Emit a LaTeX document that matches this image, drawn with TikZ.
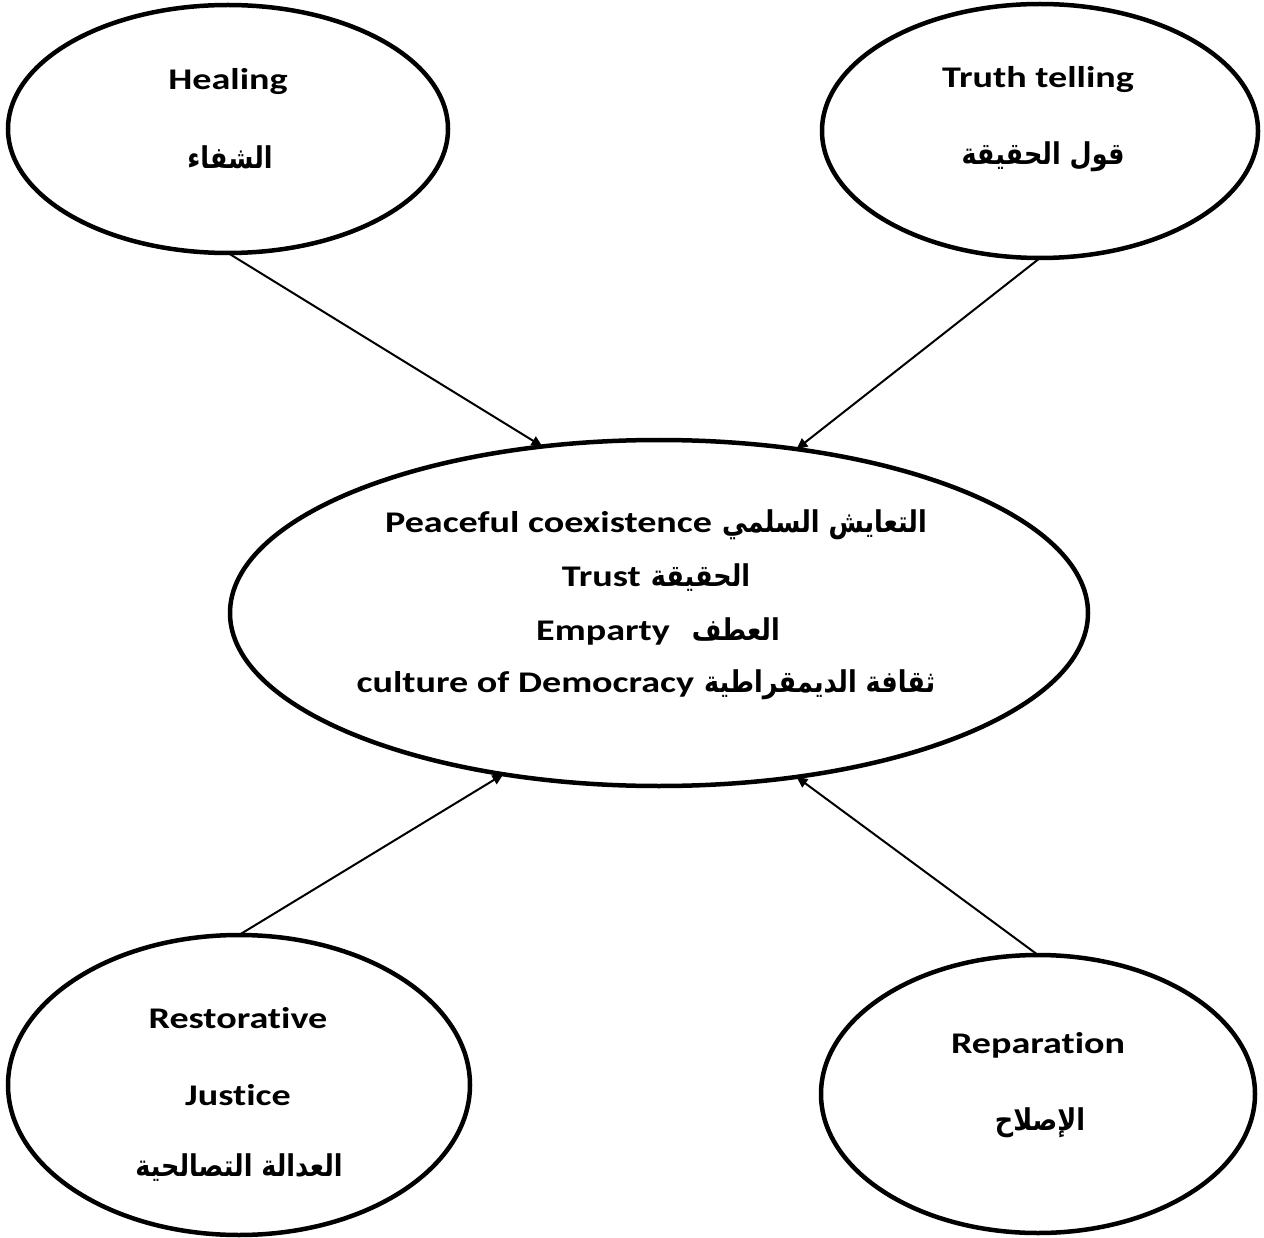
\documentclass[tikz,border=0pt]{standalone}
\usepackage{fontspec}
\usepackage{graphicx}
\setmainfont{Carlito}[Ligatures=NoCommon]
\newfontfamily\arfont[Script=Arabic]{DejaVu Sans}
\TeXXeTstate=1
\usetikzlibrary{shapes.geometric,arrows.meta}

% wide bold Latin text and condensed bold Arabic text
\newcommand{\entx}[1]{\scalebox{1.27}[1]{\fontsize{30}{34}\selectfont\bfseries #1}}
\newcommand{\artx}[1]{\scalebox{0.85}[1]{\arfont\fontsize{30}{34}\selectfont\bfseries\beginR #1\endR}}

\begin{document}
\begin{tikzpicture}[x=1pt,y=-1pt,
  bubble/.style={draw,ellipse,line width=4.5pt,inner sep=0pt,outer sep=0pt},
  txt/.style={inner sep=0pt},
  link/.style={line width=2pt,-{Triangle[length=11pt,width=10pt]}}]
  \useasboundingbox (0,0) rectangle (1264,1238);

  % outer ellipses and the central one
  \node[bubble,minimum width=440pt,minimum height=248pt] (heal)  at (228,129) {};
  \node[bubble,minimum width=436pt,minimum height=254pt] (truth) at (1040,131) {};
  \node[bubble,minimum width=858pt,minimum height=346pt] (core)  at (659,613) {};
  \node[bubble,minimum width=462pt,minimum height=300pt] (rest)  at (239,1085) {};
  \node[bubble,minimum width=434pt,minimum height=278pt] (rep)   at (1038,1094) {};

  % labels
  \node[txt] (healEn) at (228,82) {\entx{Healing}};
  \node[txt] (healAr) at (230,157) {\artx{الشفاء}};

  \node[txt] (truthEn) at (1038,80) {\entx{Truth telling}};
  \node[txt] (truthAr) at (1043,157) {\artx{قول الحقيقة}};

  \node[txt] (core1) at (656,525) {\entx{Peaceful coexistence}\hspace{10pt}\artx{التعايش السلمي}};
  \node[txt] (core2) at (656,578) {\entx{Trust}\hspace{10pt}\artx{الحقيقة}};
  \node[txt] (core3) at (658,631) {\entx{Emparty}\hspace{22pt}\artx{العطف}};
  \node[txt] (core4) at (646,685) {\entx{culture of Democracy}\hspace{10pt}\artx{ثقافة الديمقراطية}};

  \node[txt] (restEn1) at (238,1018) {\entx{Restorative}};
  \node[txt] (restEn2) at (238,1095) {\entx{Justice}};
  \node[txt] (restAr)  at (239,1168) {\artx{العدالة التصالحية}};

  \node[txt] (repEn) at (1038,1045) {\entx{Reparation}};
  \node[txt] (repAr) at (1040,1123) {\artx{الإصلاح}};

  % connectors into the central ellipse
  \draw[link] (heal.south)  -- (core.125.3);
  \draw[link] (truth.south) -- (core.50.9);
  \draw[link] (rest.north)  -- (core.226.1);
  \draw[link] (rep.north)   -- (core.310.3);
\end{tikzpicture}
\end{document}
